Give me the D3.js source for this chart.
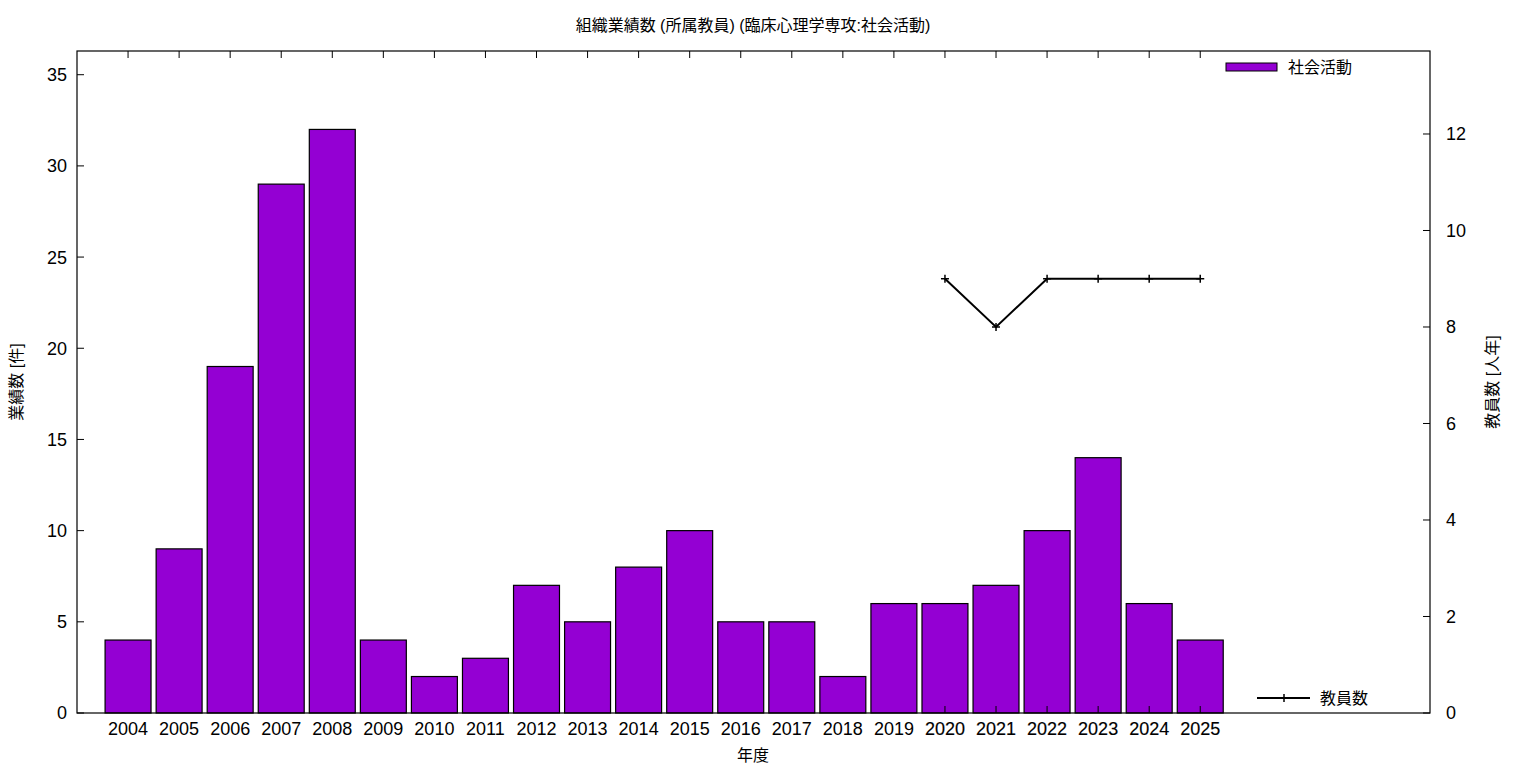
<!DOCTYPE html>
<html><head><meta charset="utf-8">
<script src="https://cdn.jsdelivr.net/npm/d3@7"></script>
<style>body{margin:0;background:#fff;} text{font-family:"Liberation Sans","Noto Sans CJK JP",sans-serif;fill:#000;}</style>
</head><body>
<svg id="c" width="1536" height="768"></svg>
<script>
const years = ["2004","2005","2006","2007","2008","2009","2010","2011","2012","2013","2014","2015","2016","2017","2018","2019","2020","2021","2022","2023","2024","2025"];
const activity = [4,9,19,29,32,4,2,3,7,5,8,10,5,5,2,6,6,7,10,14,6,4];
const staffYears = ["2020","2021","2022","2023","2024","2025"];
const staff = [9,8,9,9,9,9];
const leftTicks = [0,5,10,15,20,25,30,35];
const rightTicks = [0,2,4,6,8,10,12];

const L=77,R=1430,T=51,B=713;
const svg=d3.select("#c");
const x=d3.scaleLinear().domain([-1,25.5]).range([L,R]);
const y=d3.scaleLinear().domain([0,36.3]).range([B,T]);
const y2=d3.scaleLinear().domain([0,13.72]).range([B,T]);
const idx=y=>years.indexOf(y);

// top ticks
svg.append("g").selectAll("line").data(years).join("line")
  .attr("x1",d=>x(idx(d))).attr("x2",d=>x(idx(d))).attr("y1",T).attr("y2",T+7)
  .attr("stroke","#000").attr("stroke-width",1);
// left axis
svg.append("g").selectAll("line").data(leftTicks).join("line")
  .attr("x1",L).attr("x2",L+7).attr("y1",d=>y(d)).attr("y2",d=>y(d)).attr("stroke","#000");
svg.append("g").selectAll("text").data(leftTicks).join("text")
  .attr("x",L-10).attr("y",d=>y(d)).attr("dy","0.36em").attr("text-anchor","end")
  .attr("font-size",18).text(d=>d);
// right axis
svg.append("g").selectAll("line").data(rightTicks).join("line")
  .attr("x1",R-7).attr("x2",R).attr("y1",d=>y2(d)).attr("y2",d=>y2(d)).attr("stroke","#000");
svg.append("g").selectAll("text").data(rightTicks).join("text")
  .attr("x",R+16).attr("y",d=>y2(d)).attr("dy","0.36em").attr("text-anchor","start")
  .attr("font-size",18).text(d=>d);

// bars
const bw=x(0.9)-x(0);
svg.append("g").selectAll("rect").data(years).join("rect")
  .attr("x",d=>x(idx(d))-bw/2).attr("width",bw)
  .attr("y",(d,i)=>y(activity[i])).attr("height",(d,i)=>B-y(activity[i]))
  .attr("fill","#9400d3").attr("stroke","#000").attr("stroke-width",1.2);

// bottom ticks over bars for line-series years
svg.append("g").selectAll("line").data(staffYears).join("line")
  .attr("x1",d=>x(idx(d))).attr("x2",d=>x(idx(d))).attr("y1",B).attr("y2",B-7)
  .attr("stroke","#000").attr("stroke-width",1);

// x labels
svg.append("g").selectAll("text").data(years).join("text")
  .attr("x",d=>x(idx(d))).attr("y",B+16).attr("dy","0.36em").attr("text-anchor","middle")
  .attr("font-size",18).attr("stroke",d=>staffYears.includes(d)?"#000":"none").attr("stroke-width",0.15)
  .text(d=>d);

// frame
svg.append("rect").attr("x",L).attr("y",T).attr("width",R-L).attr("height",B-T)
  .attr("fill","none").attr("stroke","#000").attr("stroke-width",1.2);

// line
const line=d3.line().x((d,i)=>x(idx(staffYears[i]))).y(d=>y2(d));
svg.append("path").datum(staff).attr("d",line).attr("fill","none").attr("stroke","#000").attr("stroke-width",2);
const plus=svg.append("g");
staff.forEach((v,i)=>{
  const cx=x(idx(staffYears[i])), cy=y2(v);
  plus.append("line").attr("x1",cx-4).attr("x2",cx+4).attr("y1",cy).attr("y2",cy).attr("stroke","#000").attr("stroke-width",1.5);
  plus.append("line").attr("x1",cx).attr("x2",cx).attr("y1",cy-4).attr("y2",cy+4).attr("stroke","#000").attr("stroke-width",1.5);
});

// legends
svg.append("rect").attr("x",1226).attr("y",63).attr("width",51).attr("height",8).attr("fill","#9400d3").attr("stroke","#000");
svg.append("text").attr("x",1288).attr("y",67).attr("dy","0.36em").attr("font-size",16).text("社会活動");
svg.append("line").attr("x1",1257).attr("x2",1310).attr("y1",698).attr("y2",698).attr("stroke","#000").attr("stroke-width",2);
svg.append("line").attr("x1",1284).attr("x2",1284).attr("y1",694).attr("y2",702).attr("stroke","#000").attr("stroke-width",1.5);
svg.append("text").attr("x",1320).attr("y",698).attr("dy","0.36em").attr("font-size",16).text("教員数");

// titles
svg.append("text").attr("x",753).attr("y",25).attr("dy","0.36em").attr("text-anchor","middle").attr("font-size",16).text("組織業績数 (所属教員) (臨床心理学専攻:社会活動)");
svg.append("text").attr("x",753).attr("y",755).attr("dy","0.36em").attr("text-anchor","middle").attr("font-size",16).text("年度");
svg.append("text").attr("transform","translate(16,382) rotate(-90)").attr("dy","0.36em").attr("text-anchor","middle").attr("font-size",16).text("業績数 [件]");
svg.append("text").attr("transform","translate(1492,382) rotate(-90)").attr("dy","0.36em").attr("text-anchor","middle").attr("font-size",16).text("教員数 [人年]");
</script>
</body></html>
